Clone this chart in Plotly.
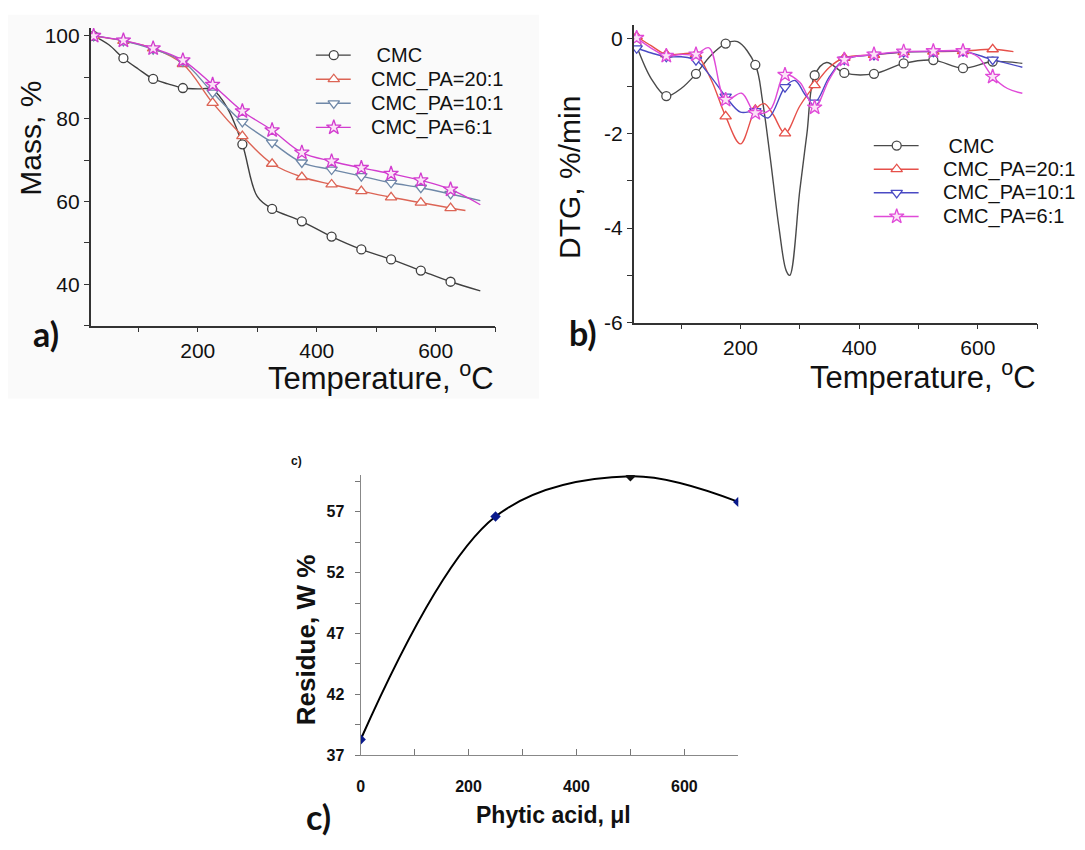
import plotly.graph_objects as go

W, H = 1085, 850

# ---------------- a) TGA: residual mass vs temperature ----------------
MARKER_T = [25, 75, 125, 175, 225, 275, 325, 375, 425, 475, 525, 575, 625]

T_CMC_MASS = [25, 50, 75, 100, 125, 150, 175, 200, 225, 250, 275, 300, 325, 375, 425, 475, 525, 575, 625, 675]
CMC_MASS = [100, 97.9, 94.6, 92.0, 89.6, 88.4, 87.4, 87.2, 87.0, 82.5, 73.8, 61.2, 58.2, 55.2, 51.5, 48.4, 46.0, 43.3, 40.6, 38.4]

T_PA20_MASS = [25, 75, 125, 175, 225, 275, 325, 375, 425, 475, 525, 575, 625, 650]
PA20_MASS = [100, 98.8, 97.0, 93.2, 83.8, 75.8, 69.1, 65.9, 64.1, 62.5, 61.0, 59.7, 58.4, 57.8]

T_PA10_MASS = [25, 75, 125, 175, 225, 275, 325, 375, 425, 475, 525, 575, 625, 675]
PA10_MASS = [100, 98.8, 96.8, 93.8, 86.3, 79.2, 74.2, 69.4, 67.7, 66.1, 64.5, 63.3, 61.8, 60.2]

T_PA6_MASS = [25, 75, 125, 175, 225, 275, 325, 375, 425, 475, 525, 575, 625, 675]
PA6_MASS = [100, 98.9, 97.0, 94.1, 88.2, 81.8, 77.2, 71.8, 69.7, 68.1, 66.7, 65.1, 62.9, 59.2]

# ---------------- b) DTG vs temperature ----------------
T_CMC_DTG = [25, 50, 75, 100, 125, 150, 175, 195, 225, 237, 250, 265, 277, 283, 300, 312, 325, 345, 375, 425, 475, 525, 575, 625, 675]
CMC_DTG = [-0.15, -0.85, -1.21, -1.05, -0.74, -0.35, -0.10, -0.06, -0.55, -1.3, -2.5, -4.0, -4.9, -5.0, -3.2, -2.0, -0.77, -0.5, -0.72, -0.74, -0.52, -0.45, -0.62, -0.48, -0.52]

T_PA20_DTG = [25, 50, 75, 100, 125, 150, 175, 200, 225, 240, 255, 275, 300, 325, 350, 375, 425, 475, 525, 575, 625, 660]
PA20_DTG = [0.05, -0.15, -0.33, -0.32, -0.33, -0.85, -1.64, -2.22, -1.5, -1.37, -1.6, -2.0, -1.42, -0.98, -0.6, -0.40, -0.34, -0.28, -0.27, -0.26, -0.22, -0.27]

T_PA10_DTG = [25, 50, 75, 100, 125, 150, 175, 200, 225, 247, 275, 292, 310, 325, 350, 375, 425, 475, 525, 575, 625, 675]
PA10_DTG = [-0.2, -0.3, -0.38, -0.38, -0.45, -0.8, -1.22, -1.55, -1.53, -1.67, -1.02, -0.88, -1.2, -1.35, -0.8, -0.44, -0.34, -0.28, -0.27, -0.26, -0.44, -0.6]

T_PA6_DTG = [25, 50, 75, 100, 125, 147, 175, 202, 225, 250, 275, 300, 325, 350, 375, 425, 475, 525, 575, 600, 625, 650, 675]
PA6_DTG = [0.02, -0.2, -0.36, -0.33, -0.33, -0.19, -1.29, -1.15, -1.57, -1.5, -0.76, -0.92, -1.45, -0.85, -0.44, -0.33, -0.27, -0.26, -0.26, -0.38, -0.8, -1.05, -1.15]

# ---------------- c) char residue vs phytic acid volume ----------------
PA_VOLUME = [0, 250, 500, 700]
RESIDUE = [38.3, 56.6, 59.9, 57.8]

SERIES = ["CMC", "CMC_PA=20:1", "CMC_PA=10:1", "CMC_PA=6:1"]
LEGEND_TEXT = ["\u00a0CMC", "CMC_PA=20:1", "CMC_PA=10:1", "CMC_PA=6:1"]

SYMBOLS = {"CMC": "circle", "CMC_PA=20:1": "triangle-up",
           "CMC_PA=10:1": "triangle-down", "CMC_PA=6:1": "star"}
SIZES = {"CMC": 9, "CMC_PA=20:1": 10, "CMC_PA=10:1": 10, "CMC_PA=6:1": 11}
FILLS = {"CMC": "white", "CMC_PA=20:1": "white", "CMC_PA=10:1": "white", "CMC_PA=6:1": "#fbe3f7"}
COLORS_A = {"CMC": "#404040", "CMC_PA=20:1": "#dc6455", "CMC_PA=10:1": "#6f88a8", "CMC_PA=6:1": "#d23ccf"}
COLORS_B = {"CMC": "#4a4a4a", "CMC_PA=20:1": "#e6504a", "CMC_PA=10:1": "#4a4ac4", "CMC_PA=6:1": "#e04ad8"}

MASS = {"CMC": (T_CMC_MASS, CMC_MASS), "CMC_PA=20:1": (T_PA20_MASS, PA20_MASS),
        "CMC_PA=10:1": (T_PA10_MASS, PA10_MASS), "CMC_PA=6:1": (T_PA6_MASS, PA6_MASS)}
DTG = {"CMC": (T_CMC_DTG, CMC_DTG), "CMC_PA=20:1": (T_PA20_DTG, PA20_DTG),
       "CMC_PA=10:1": (T_PA10_DTG, PA10_DTG), "CMC_PA=6:1": (T_PA6_DTG, PA6_DTG)}

SANS = "Liberation Sans, Arial, sans-serif"
LABEL_FONT = "Lato, Open Sans, sans-serif"


def fx(px):
    return px / W


def fy(py):
    return 1 - py / H


fig = go.Figure()


def add_curves(data, colors, xa, ya):
    for name in SERIES:
        t, v = data[name]
        c = colors[name]
        fig.add_trace(go.Scatter(
            x=t, y=v, mode="lines", xaxis=xa, yaxis=ya, showlegend=False, hoverinfo="skip",
            line=dict(color=c, width=1.4, shape="spline", smoothing=1.0)))
        mt = [ti for ti in t if ti in MARKER_T]
        mv = [vi for ti, vi in zip(t, v) if ti in MARKER_T]
        fig.add_trace(go.Scatter(
            x=mt, y=mv, mode="markers", xaxis=xa, yaxis=ya, showlegend=False, name=name,
            marker=dict(symbol=SYMBOLS[name], size=SIZES[name], color=FILLS[name],
                        line=dict(color=c, width=1.3))))


add_curves(MASS, COLORS_A, "x", "y")
add_curves(DTG, COLORS_B, "x2", "y2")

# panel c
fig.add_trace(go.Scatter(
    x=PA_VOLUME, y=RESIDUE, mode="lines+markers", xaxis="x3", yaxis="y3", showlegend=False,
    line=dict(color="black", width=2, shape="spline", smoothing=1.0),
    marker=dict(symbol="diamond", size=8, color=["#0a1a8c", "#0a1a8c", "#111111", "#0a1a8c"])))

# hand-placed legends drawn on a full-canvas pixel axis
shapes = []
legend_rows = [
    (COLORS_A, 313, 348, 331, 366, [53, 77.5, 102, 126.5]),
    (COLORS_B, 873, 918, 896, 940, [145, 169, 193, 217]),
]
annotations = []
for colors, x0, x1, xm, xt, rows in legend_rows:
    for name, label, yy in zip(SERIES, LEGEND_TEXT, rows):
        shapes.append(dict(type="line", xref="x4", yref="y4", x0=x0, x1=x1, y0=yy, y1=yy,
                           line=dict(color=colors[name], width=1.4), layer="below"))
        fig.add_trace(go.Scatter(
            x=[xm], y=[yy], mode="markers", xaxis="x4", yaxis="y4", showlegend=False,
            hoverinfo="skip",
            marker=dict(symbol=SYMBOLS[name], size=SIZES[name], color=FILLS[name],
                        line=dict(color=colors[name], width=1.3))))
        annotations.append(dict(x=fx(xt), y=fy(yy), xref="paper", yref="paper", text=label,
                                showarrow=False, xanchor="left", yanchor="middle",
                                font=dict(family=SANS, size=20, color="#111")))

# faint backdrop behind panel a
shapes.insert(0, dict(type="rect", xref="paper", yref="paper", x0=fx(4), x1=fx(537),
                      y0=fy(402), y1=fy(12), fillcolor="#fafafa", line=dict(width=0),
                      layer="below"))

axis_common = dict(showline=True, linecolor="#333", linewidth=1.5, showgrid=False,
                   zeroline=False, ticks="outside", ticklen=5, tickwidth=1.3, tickcolor="#333",
                   tickfont=dict(family=SANS, size=21, color="#111"))

layout_axes = dict(
    xaxis=dict(domain=[fx(87), fx(493)], range=[20, 700], anchor="y", tick0=0, dtick=200,
               minor=dict(dtick=100, tick0=0, ticks="outside", ticklen=5, tickcolor="#333"),
               **axis_common),
    yaxis=dict(domain=[fy(328), fy(25)], range=[30, 102], anchor="x", tick0=0, dtick=20,
               minor=dict(dtick=10, tick0=0, ticks="outside", ticklen=5, tickcolor="#333"),
               **axis_common),
    xaxis2=dict(domain=[fx(632), fx(1037)], range=[20, 700], anchor="y2", tick0=0, dtick=200,
                minor=dict(dtick=100, tick0=0, ticks="outside", ticklen=5, tickcolor="#333"),
                **axis_common),
    yaxis2=dict(domain=[fy(325), fy(22)], range=[-6, 0.3], anchor="x2",
                tickvals=[0, -2, -4, -6], ticktext=["0", "-2", "-4", "-6"],
                minor=dict(dtick=1, tick0=0, ticks="outside", ticklen=5, tickcolor="#333"),
                **axis_common),
    xaxis3=dict(domain=[fx(358), fx(737)], range=[0, 700], anchor="y3", showline=True,
                linecolor="#888", linewidth=1.2, showgrid=False, zeroline=False,
                tickvals=[0, 200, 400, 600], ticks="inside", ticklen=6, tickcolor="#777",
                ticklabelstandoff=16,
                minor=dict(dtick=100, tick0=0, ticks="inside", ticklen=6, tickcolor="#777"),
                tickfont=dict(family=SANS, size=16, color="#111", weight="bold")),
    yaxis3=dict(domain=[fy(765), fy(480)], range=[37, 60], anchor="x3", showline=True,
                linecolor="#888", linewidth=1.2, showgrid=False, zeroline=False,
                tickvals=[37, 42, 47, 52, 57], ticks="outside", ticklen=5, tickcolor="#777",
                ticklabelstandoff=7,
                minor=dict(dtick=2.5, tick0=37, ticks="outside", ticklen=5, tickcolor="#777"),
                tickfont=dict(family=SANS, size=16, color="#111", weight="bold")),
    xaxis4=dict(domain=[0, 1], range=[0, W], anchor="y4", visible=False, fixedrange=True),
    yaxis4=dict(domain=[0, 1], range=[H, 0], anchor="x4", visible=False, fixedrange=True),
)


def text(px, py, s, size, bold=False, family=SANS, angle=0, xanchor="center", color="#111"):
    annotations.append(dict(x=fx(px), y=fy(py), xref="paper", yref="paper", text=s,
                            showarrow=False, textangle=angle, xanchor=xanchor,
                            yanchor="middle",
                            font=dict(family=family, size=size, color=color,
                                      weight="bold" if bold else "normal")))


# axis titles
text(27, 137, "Mass, %", 30, angle=-90)
text(494, 379, "Temperature, <sup>o</sup>C", 31, xanchor="right")
text(567, 177, "DTG, %/min", 30, angle=-90)
text(1038, 378, "Temperature, <sup>o</sup>C", 31, xanchor="right")
text(303, 648, "Residue, W %", 26, bold=True, angle=-90)
text(552, 826, "Phytic acid, \u03bcl", 23, bold=True)

# panel labels
text(42, 336, "a)", 34, bold=True, family=LABEL_FONT)
text(581, 335, "b)", 34, bold=True, family=LABEL_FONT)
text(316, 827, "c)", 34, bold=True, family=LABEL_FONT)
text(294, 466, "c)", 12, bold=True)

fig.update_layout(
    width=W, height=H, margin=dict(l=0, r=0, t=0, b=0),
    paper_bgcolor="white", plot_bgcolor="rgba(0,0,0,0)",
    showlegend=False, shapes=shapes, annotations=annotations,
    **layout_axes)

fig.write_html("out.html")
